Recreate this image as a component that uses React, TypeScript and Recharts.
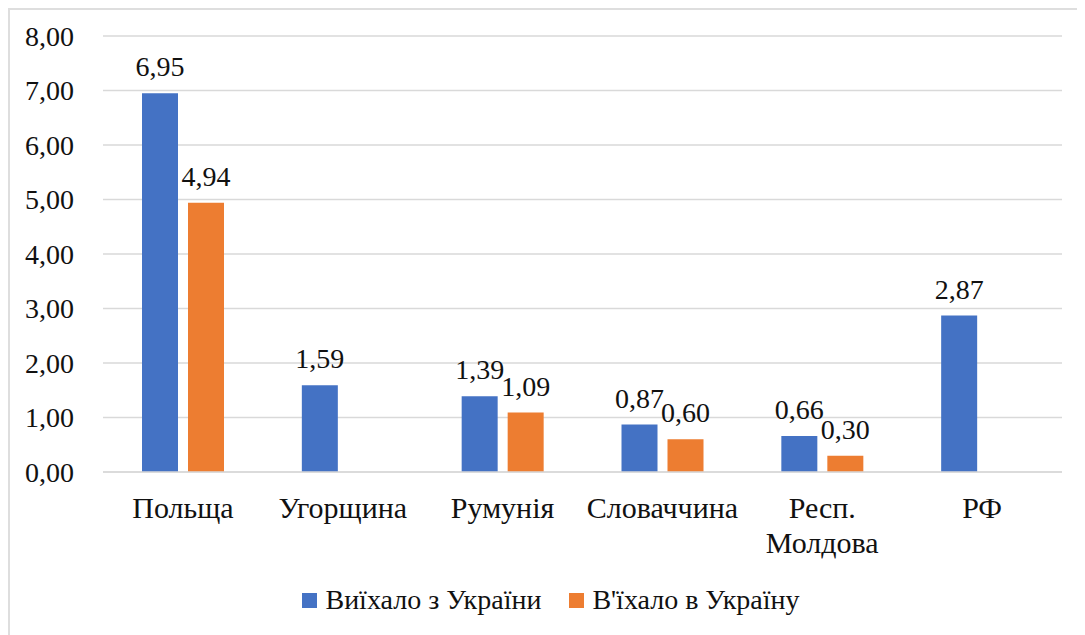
import React from "react";
import { BarChart, Bar, XAxis, YAxis, CartesianGrid, Legend, LabelList } from "recharts";

const countries = ["Польща", "Угорщина", "Румунія", "Словаччина", "Респ. Молдова", "РФ"];
const leftUkraine = [6.95, 1.59, 1.39, 0.87, 0.66, 2.87];
const enteredUkraine: (number | null)[] = [4.94, null, 1.09, 0.6, 0.3, null];
const yTicks = [0, 1, 2, 3, 4, 5, 6, 7, 8];

const BLUE = "#4472C4";
const ORANGE = "#ED7D31";
const GRID = "#d9d9d9";
const INK = "#111";
const FONT = "Liberation Serif";

const data = countries.map((name, i) => ({
  name,
  left: leftUkraine[i],
  entered: enteredUkraine[i],
}));

const fmt = (v: unknown) =>
  v === null || v === undefined || v === "" ? "" : Number(v).toFixed(2).replace(".", ",");

function CountryTick({ x, y, payload }: any) {
  const lines = String(payload.value).split(" ");
  return (
    <text x={x} y={y} textAnchor="middle" fill={INK} fontSize={30} fontFamily={FONT}>
      {lines.map((line, i) => (
        <tspan key={i} x={x} dy={i === 0 ? 46 : 35}>
          {line}
        </tspan>
      ))}
    </text>
  );
}

function LegendBox() {
  const items = [
    { label: "Виїхало з України", color: BLUE },
    { label: "В'їхало в Україну", color: ORANGE },
  ];
  return (
    <div
      style={{
        height: 50,
        display: "flex",
        alignItems: "center",
        justifyContent: "center",
        gap: 28,
        fontFamily: FONT,
        fontSize: 28,
        color: INK,
      }}
    >
      {items.map((it) => (
        <div key={it.label} style={{ display: "flex", alignItems: "center", gap: 8 }}>
          <span style={{ width: 15, height: 15, background: it.color, display: "inline-block" }} />
          <span>{it.label}</span>
        </div>
      ))}
    </div>
  );
}

export default function App() {
  return (
    <div
      style={{
        position: "relative",
        width: 1077,
        height: 627,
        borderTop: `2px solid #dedede`,
        borderLeft: `2px solid #dedede`,
        boxSizing: "border-box",
        background: "#fff",
        fontFamily: FONT,
      }}
    >
      <div style={{ position: "absolute", left: -2, top: -2 }}>
        <BarChart
          width={1077}
          height={627}
          data={data}
          margin={{ top: 28, right: 23, left: 0, bottom: 10 }}
          barSize={36}
          barGap={10}
          style={{ fontFamily: FONT }}
        >
          <CartesianGrid vertical={false} stroke={GRID} strokeWidth={1.5} />
          <XAxis
            dataKey="name"
            height={103}
            tickLine={false}
            tickSize={0}
            tickMargin={0}
            axisLine={{ stroke: GRID, strokeWidth: 1.5 }}
            tick={<CountryTick />}
            interval={0}
          />
          <YAxis
            width={95}
            domain={[0, 8]}
            ticks={yTicks}
            axisLine={false}
            tickLine={false}
            tickSize={0}
            tickMargin={29}
            tickFormatter={(v: number) => fmt(v)}
            tick={{ fill: INK, fontSize: 28, fontFamily: FONT }}
          />
          <Legend verticalAlign="bottom" content={<LegendBox />} wrapperStyle={{ paddingLeft: 16 }} />
          <Bar dataKey="left" name="Виїхало з України" fill={BLUE} isAnimationActive={false}>
            <LabelList
              dataKey="left"
              position="top"
              offset={17}
              formatter={fmt}
              fill={INK}
              fontSize={28}
              fontFamily={FONT}
            />
          </Bar>
          <Bar dataKey="entered" name="В'їхало в Україну" fill={ORANGE} isAnimationActive={false}>
            <LabelList
              dataKey="entered"
              position="top"
              offset={17}
              formatter={fmt}
              fill={INK}
              fontSize={28}
              fontFamily={FONT}
            />
          </Bar>
        </BarChart>
      </div>
    </div>
  );
}
